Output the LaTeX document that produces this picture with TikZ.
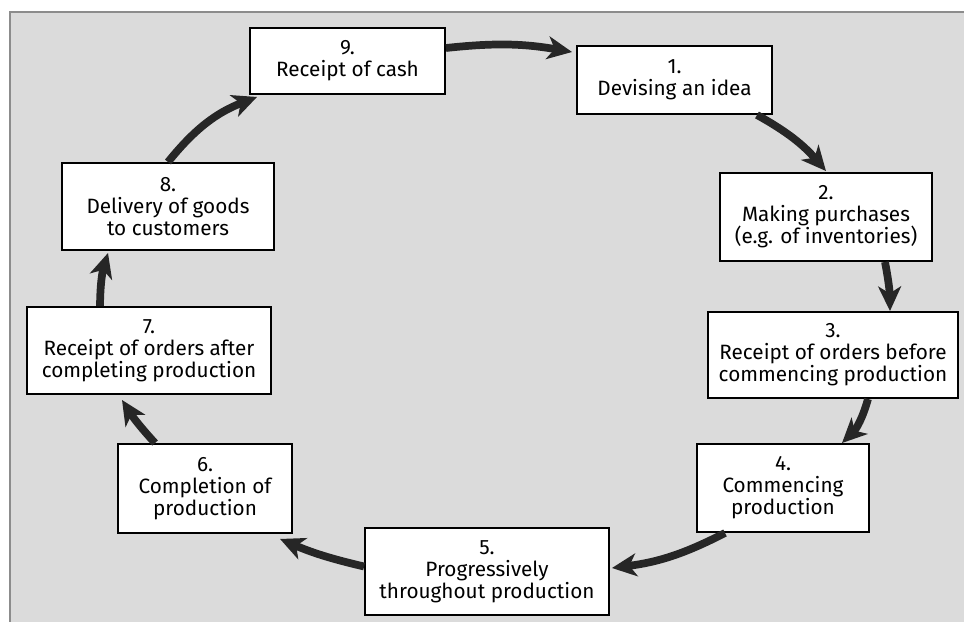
\documentclass[tikz,border=0pt]{standalone}
\usepackage{fontspec}
\setsansfont{Fira Sans}
\usetikzlibrary{positioning,arrows.meta}

\begin{document}
\begin{tikzpicture}[
    x=0.02cm, y=-0.02cm,
    stagebox/.style={
        rectangle, draw=black, fill=white, line width=1.1pt, align=center,
        font=\sffamily\fontsize{11.8}{12.6}\selectfont, inner sep=2pt
      },
    flow/.style={
        draw=black!85, line width=4.4pt, -{Stealth[length=14pt,width=13pt,inset=4pt]}
      },
  ]
  \useasboundingbox (0,0) rectangle (964,622);
  \fill[black!14] (10,12) rectangle (964,622);
  \draw[black!45, line width=1pt] (10,622) -- (10,12) -- (964,12);

  \node[stagebox, minimum width=3.9cm, minimum height=1.32cm](s9) at (347.5,61) {9.\\Receipt of cash};
  \node[stagebox, minimum width=3.9cm, minimum height=1.36cm](s1) at (674.5,80) {1.\\Devising an idea};
  \node[stagebox, minimum width=4.24cm, minimum height=1.76cm](s2) at (826,217) {2.\\Making purchases\\(e.g. of inventories)};
  \node[stagebox, minimum width=5.0cm, minimum height=1.72cm](s3) at (833,355) {3.\\Receipt of orders before\\commencing production};
  \node[stagebox, minimum width=3.44cm, minimum height=1.76cm](s4) at (783,488) {4.\\Commencing\\production};
  \node[stagebox, minimum width=4.88cm, minimum height=1.74cm](s5) at (487,571.5) {5.\\Progressively\\throughout production};
  \node[stagebox, minimum width=3.48cm, minimum height=1.78cm](s6) at (205,488.5) {6.\\Completion of\\production};
  \node[stagebox, minimum width=4.88cm, minimum height=1.74cm](s7) at (149,350.5) {7.\\Receipt of orders after\\completing production};
  \node[stagebox, minimum width=4.24cm, minimum height=1.74cm](s8) at (168,206.5) {8.\\Delivery of goods\\to customers};

  % the cycle, clockwise
  \path
    ([yshift=0.26cm]s9.east) edge[flow, bend left=8] ([xshift=-0.08cm,yshift=0.56cm]s1.west)
    ([xshift=1.65cm]s1.south) edge[flow, bend left=10] ([yshift=0.02cm]s2.north)
    ([xshift=1.18cm]s2.south) edge[flow, bend left=5] ([xshift=1.14cm]s3.north)
    ([xshift=0.7cm]s3.south) edge[flow, bend left=15] ([xshift=1.18cm]s4.north)
    ([xshift=-1.16cm]s4.south) edge[flow, bend left=10] ([xshift=0.04cm,yshift=0.07cm]s5.east)
    ([yshift=0.1cm]s5.west) edge[flow, bend left=5] ([xshift=1.5cm,yshift=-0.1cm]s6.south)
    ([xshift=-1cm]s6.north) edge[flow, bend left=5] ([xshift=-0.54cm,yshift=-0.1cm]s7.south)
    ([xshift=-0.98cm]s7.north) edge[flow, bend left=8] ([xshift=-1.2cm,yshift=-0.04cm]s8.south)
    (s8.north) edge[flow, bend left=15] ([xshift=0.16cm,yshift=-0.04cm]s9.south west)
  ;
\end{tikzpicture}
\end{document}
